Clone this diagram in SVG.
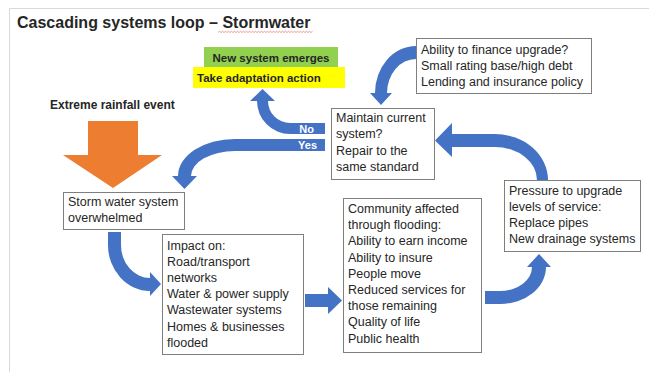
<svg xmlns="http://www.w3.org/2000/svg" width="649" height="372" viewBox="0 0 649 372">
<style>
  .t { font-family: "Liberation Sans", Arial, sans-serif; font-size: 12.5px; fill: #262626; }
  .b { font-family: "Liberation Sans", Arial, sans-serif; font-weight: bold; fill: #262626; }
  .box { fill: #ffffff; stroke: #7f7f7f; stroke-width: 1; }
  .blue { fill: #4472C4; }
  .lbl { font-family: "Liberation Sans", Arial, sans-serif; font-weight: bold; font-size: 11px; fill: #ffffff; text-anchor: end; }
</style>
<rect x="0" y="0" width="649" height="372" fill="#ffffff"/>
<path d="M9.5 372 V8.5 H649" fill="none" stroke="#d9d9d9" stroke-width="1"/>

<g id="title">
  <text class="b" x="17" y="28" font-size="16">Cascading systems loop – Stormwater</text>
  <path d="M218 32.5 l1.5 -1.2 l1.5 1.2 l1.5 -1.2 l1.5 1.2 l1.5 -1.2 l1.5 1.2 l1.5 -1.2 l1.5 1.2 l1.5 -1.2 l1.5 1.2 l1.5 -1.2 l1.5 1.2 l1.5 -1.2 l1.5 1.2 l1.5 -1.2 l1.5 1.2 l1.5 -1.2 l1.5 1.2 l1.5 -1.2 l1.5 1.2 l1.5 -1.2 l1.5 1.2 l1.5 -1.2 l1.5 1.2 l1.5 -1.2 l1.5 1.2 l1.5 -1.2 l1.5 1.2 l1.5 -1.2 l1.5 1.2 l1.5 -1.2 l1.5 1.2 l1.5 -1.2 l1.5 1.2 l1.5 -1.2 l1.5 1.2 l1.5 -1.2 l1.5 1.2 l1.5 -1.2 l1.5 1.2 l1.5 -1.2 l1.5 1.2 l1.5 -1.2 l1.5 1.2 l1.5 -1.2 l1.5 1.2 l1.5 -1.2 l1.5 1.2 l1.5 -1.2 l1.5 1.2 l1.5 -1.2 l1.5 1.2 l1.5 -1.2 l1.5 1.2 l1.5 -1.2 l1.5 1.2 l1.5 -1.2 l1.5 1.2 l1.5 -1.2 l1.5 1.2 l1.5 -1.2 l1.5 1.2 l1.5 -1.2" fill="none" stroke="#e07070" stroke-width="0.7"/>
</g>

<g id="new-system">
  <rect x="204" y="47" width="134" height="20" fill="#92D050"/>
  <text class="b" x="271" y="61.5" font-size="11.5" text-anchor="middle">New system emerges</text>
</g>
<g id="adaptation">
  <rect x="193" y="67" width="152" height="21" fill="#FFFF00"/>
  <text class="b" x="197" y="82" font-size="11.5">Take adaptation action</text>
</g>

<g id="rainfall">
  <text class="b" x="50" y="109" font-size="12">Extreme rainfall event</text>
  <path d="M88 121 H138 V155 H162 L113 188 L63 155 H88 Z" fill="#ED7D31"/>
</g>

<g id="connectors">
  <path class="blue" d="M325 123 H290 A22 22 0 0 1 268 101 H275 L262.5 89 L250 101 H257 A33 33 0 0 0 290 134 H325 Z"/>
  <text class="lbl" x="314" y="133">No</text>
  <path class="blue" d="M325 139 H235 A57 37 0 0 0 178 176 H172 L184.5 189 L197 176 H191 A44 25 0 0 1 235 151 H325 Z"/>
  <text class="lbl" x="317" y="149">Yes</text>
  <path class="blue" d="M416 46 A41 47 0 0 0 375 93 H370 L381 105 L392 93 H387 A29 34 0 0 1 416 59 Z"/>
  <path class="blue" d="M452 134 H495 A53 46 0 0 1 548 180 H537 A42 33 0 0 0 495 147 H452 V157 L435 140.5 L452 123 Z"/>
  <path class="blue" d="M485 304 H500 A46 37 0 0 0 546 267 H551 L539 254 L527 267 H532 A32 24 0 0 1 500 291 H485 Z"/>
  <path class="blue" d="M108 232 V245 A42 46 0 0 0 150 291 V296 L161 284 L150 272 V278 A29 33 0 0 1 121 245 V232 Z"/>
  <path class="blue" d="M305 294 H328 V287 L342 300.5 L328 314 V307 H305 Z"/>
</g>

<g id="storm">
  <rect class="box" x="63.5" y="192.5" width="121" height="37"/>
  <text class="t" x="68" y="206">Storm water system</text>
  <text class="t" x="68" y="222">overwhelmed</text>
</g>

<g id="maintain">
  <rect class="box" x="331.5" y="108.5" width="103" height="71"/>
  <text class="t" x="336" y="122">Maintain current</text>
  <text class="t" x="336" y="138.3">system?</text>
  <text class="t" x="336" y="154.6">Repair to the</text>
  <text class="t" x="336" y="170.9">same standard</text>
</g>

<g id="finance">
  <rect class="box" x="416.5" y="38.5" width="175" height="55"/>
  <text class="t" x="421" y="54">Ability to finance upgrade?</text>
  <text class="t" x="421" y="70">Small rating base/high debt</text>
  <text class="t" x="421" y="86">Lending and insurance policy</text>
</g>

<g id="pressure">
  <rect class="box" x="504.5" y="180.5" width="136" height="71"/>
  <text class="t" x="509" y="195">Pressure to upgrade</text>
  <text class="t" x="509" y="211">levels of service:</text>
  <text class="t" x="509" y="227">Replace pipes</text>
  <text class="t" x="509" y="243">New drainage systems</text>
</g>

<g id="impact">
  <rect class="box" x="162.5" y="234.5" width="141" height="120"/>
  <text class="t" x="167" y="249.5">Impact on:</text>
  <text class="t" x="167" y="265.7">Road/transport</text>
  <text class="t" x="167" y="281.9">networks</text>
  <text class="t" x="167" y="298.1">Water &amp; power supply</text>
  <text class="t" x="167" y="314.3">Wastewater systems</text>
  <text class="t" x="167" y="330.5">Homes &amp; businesses</text>
  <text class="t" x="167" y="346.7">flooded</text>
</g>

<g id="community">
  <rect class="box" x="343.5" y="198.5" width="138" height="154"/>
  <text class="t" x="348" y="213">Community affected</text>
  <text class="t" x="348" y="229.2">through flooding:</text>
  <text class="t" x="348" y="245.4">Ability to earn income</text>
  <text class="t" x="348" y="261.6">Ability to insure</text>
  <text class="t" x="348" y="277.8">People move</text>
  <text class="t" x="348" y="294">Reduced services for</text>
  <text class="t" x="348" y="310.2">those remaining</text>
  <text class="t" x="348" y="326.4">Quality of life</text>
  <text class="t" x="348" y="342.6">Public health</text>
</g>
</svg>
